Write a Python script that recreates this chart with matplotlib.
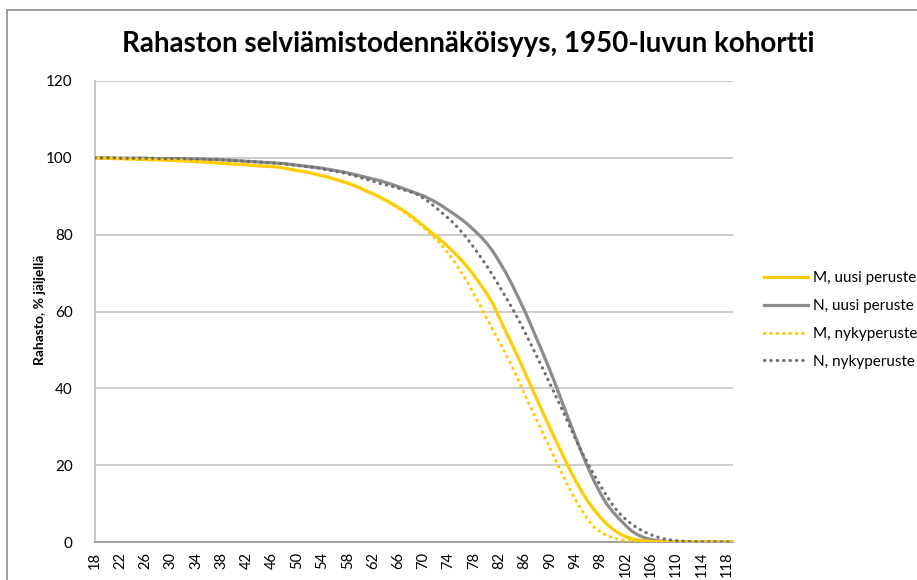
import numpy as np
import matplotlib
matplotlib.use("Agg")
import matplotlib.pyplot as plt
from matplotlib.patches import Rectangle
from matplotlib.lines import Line2D

ages = list(range(18, 120))

m_uusi = [100, 99.9, 99.9, 99.8, 99.8, 99.7, 99.7, 99.6, 99.6, 99.5, 99.5, 99.4,
          99.3, 99.3, 99.2, 99.1, 99.0, 98.9, 98.8, 98.7, 98.6, 98.5, 98.4, 98.3,
          98.2, 98.0, 97.9, 97.8, 97.7, 97.6, 97.3, 97.0, 96.7, 96.4, 96.1, 95.7,
          95.3, 94.9, 94.4, 93.9, 93.4, 92.8, 92.1, 91.3, 90.6, 89.8, 89.0, 88.1,
          87.1, 86.1, 84.9, 83.6, 82.3, 80.9, 79.6, 78.2, 76.7, 75.1, 73.4, 71.5,
          69.4, 67.1, 64.7, 62.0, 58.4, 54.9, 51.5, 48.0, 44.3, 40.7, 37.0, 33.4,
          29.8, 26.3, 22.8, 19.4, 16.2, 13.3, 10.7, 8.4, 6.4, 4.7, 3.3, 2.2,
          1.4, 0.85, 0.5, 0.28, 0.15, 0.08, 0.04, 0.02, 0.01, 0, 0, 0,
          0, 0, 0, 0, 0, 0]

n_uusi = [100, 100, 100, 99.9, 99.9, 99.9, 99.9, 99.9, 99.9, 99.8, 99.8, 99.8,
          99.8, 99.8, 99.8, 99.7, 99.7, 99.7, 99.6, 99.6, 99.5, 99.4, 99.3, 99.2,
          99.1, 99.0, 98.9, 98.8, 98.7, 98.6, 98.5, 98.3, 98.1, 97.9, 97.7, 97.5,
          97.3, 97.0, 96.7, 96.4, 96.1, 95.7, 95.3, 94.9, 94.5, 94.1, 93.6, 93.1,
          92.5, 91.9, 91.3, 90.7, 90.1, 89.3, 88.4, 87.4, 86.3, 85.2, 84.0, 82.7,
          81.2, 79.6, 77.8, 75.6, 73.0, 70.2, 67.1, 63.7, 60.2, 56.5, 52.6, 48.8,
          44.8, 40.6, 36.2, 31.9, 27.6, 23.4, 19.5, 15.9, 12.7, 9.9, 7.8, 6.0,
          4.3, 2.8, 1.8, 1.1, 0.65, 0.35, 0.18, 0.09, 0.04, 0.02, 0.01, 0,
          0, 0, 0, 0, 0, 0]

m_nyky = [100, 99.9, 99.9, 99.8, 99.8, 99.7, 99.7, 99.6, 99.6, 99.5, 99.5, 99.4,
          99.3, 99.3, 99.2, 99.1, 99.0, 98.9, 98.8, 98.7, 98.6, 98.5, 98.4, 98.3,
          98.2, 98.1, 98.0, 97.9, 97.8, 97.6, 97.4, 97.1, 96.8, 96.5, 96.2, 95.8,
          95.4, 95.0, 94.5, 94.0, 93.5, 92.9, 92.2, 91.5, 90.7, 89.9, 88.9, 88.0,
          87.0, 85.8, 84.6, 83.3, 81.9, 80.4, 78.8, 77.0, 75.0, 72.7, 70.2, 67.5,
          64.5, 61.5, 58.2, 55.2, 52.2, 49.0, 45.8, 42.2, 38.5, 35.0, 31.5, 28.0,
          24.5, 21.0, 17.6, 14.3, 11.2, 8.4, 5.9, 3.9, 2.6, 1.7, 1.1, 0.7,
          0.4, 0.22, 0.12, 0.06, 0.03, 0.01, 0, 0, 0, 0, 0, 0,
          0, 0, 0, 0, 0, 0]

n_nyky = [100, 100, 100, 100, 99.9, 99.9, 99.9, 99.9, 99.9, 99.9, 99.8, 99.8,
          99.8, 99.8, 99.8, 99.7, 99.7, 99.7, 99.6, 99.6, 99.5, 99.4, 99.3, 99.2,
          99.1, 99.0, 98.9, 98.8, 98.7, 98.6, 98.4, 98.2, 98.0, 97.8, 97.6, 97.4,
          97.1, 96.8, 96.5, 96.2, 95.8, 95.4, 94.9, 94.4, 93.9, 93.4, 93.0, 92.6,
          92.1, 91.6, 91.1, 90.5, 89.5, 88.3, 87.0, 85.6, 84.2, 82.6, 80.8, 78.8,
          76.6, 74.3, 71.9, 69.3, 66.6, 63.8, 61.0, 58.0, 54.8, 51.5, 48.1, 44.7,
          41.3, 37.8, 34.3, 30.7, 27.1, 23.6, 20.5, 17.5, 14.7, 12.0, 9.5, 7.5,
          5.9, 4.6, 3.5, 2.6, 1.9, 1.3, 0.85, 0.55, 0.35, 0.2, 0.12, 0.07,
          0.04, 0.02, 0.01, 0.01, 0, 0]

series_labels = ["M, uusi peruste", "N, uusi peruste", "M, nykyperuste", "N, nykyperuste"]
title = "Rahaston selviämistodennäköisyys, 1950-luvun kohortti"
ylabel = "Rahasto, % jäljellä"
yticks = [0, 20, 40, 60, 80, 100, 120]
xtick_labels = list(range(18, 120, 4))

W, H = 917, 580
fig = plt.figure(figsize=(W / 100, H / 100), dpi=100)
fig.patch.set_facecolor("white")

# outer chart frame (partly cut off at right/bottom)
fig.patches.append(Rectangle((7 / W, -0.05), 1.2, (H - 10) / H + 0.05,
                             transform=fig.transFigure, fill=False,
                             edgecolor="#8c8c8c", linewidth=1.2))

left, right, bottom, top = 95 / W, 733 / W, (H - 542) / H, (H - 81) / H
ax = fig.add_axes([left, bottom, right - left, top - bottom])

yellow = "#FFCC00"
grey = "#8C8C8C"
dgrey = "#6E6E6E"
lw = 2.3
dots = (0, (0.1, 1.9))

ax.plot(ages, m_uusi, color=yellow, lw=lw, solid_capstyle="round", zorder=4)
ax.plot(ages, n_uusi, color=grey, lw=lw, solid_capstyle="round", zorder=3)
ax.plot(ages, m_nyky, color=yellow, lw=lw, linestyle=dots,
        dash_capstyle="round", zorder=5)
ax.plot(ages, n_nyky, color=dgrey, lw=lw, linestyle=dots,
        dash_capstyle="round", zorder=5)

ax.set_xlim(18, 119)
ax.set_ylim(0, 120)
ax.set_yticks(yticks)
ax.set_xticks(xtick_labels)
ax.set_xticklabels([str(v) for v in xtick_labels], rotation=90,
                   fontsize=10.5, fontfamily="Lato")
ax.set_yticklabels([str(v) for v in yticks], fontsize=11, fontfamily="Lato")
ax.tick_params(axis="both", length=0, colors="#000000")
ax.tick_params(axis="y", pad=16)
ax.tick_params(axis="x", pad=7)
ax.grid(axis="y", color="#C8C8C8", linewidth=1.3)
ax.set_axisbelow(True)
for s in ["top", "right"]:
    ax.spines[s].set_visible(False)
ax.spines["left"].set_color("#BFBFBF")
ax.spines["left"].set_linewidth(1.3)
ax.spines["bottom"].set_color("#9a9a9a")
ax.spines["bottom"].set_linewidth(1.3)

fig.text(468 / W, 1 - 44 / H, title, ha="center", va="center",
         fontsize=20, fontweight="bold", fontfamily="Lato")
fig.text(40 / W, 1 - 310 / H, ylabel, ha="center", va="center", rotation=90,
         fontsize=10, fontweight="bold", fontfamily="Lato")

handles = [
    Line2D([], [], color=yellow, lw=lw),
    Line2D([], [], color=grey, lw=lw),
    Line2D([], [], color=yellow, lw=lw, linestyle=dots, dash_capstyle="round"),
    Line2D([], [], color=dgrey, lw=lw, linestyle=dots, dash_capstyle="round"),
]
leg = fig.legend(handles, series_labels, loc="center left",
                 bbox_to_anchor=(750 / W, 1 - 320 / H), frameon=False,
                 prop={"family": "Lato", "size": 11}, handlelength=2.9,
                 handletextpad=0.3, labelspacing=0.9)

fig.savefig("out.png", dpi=100, facecolor="white")
